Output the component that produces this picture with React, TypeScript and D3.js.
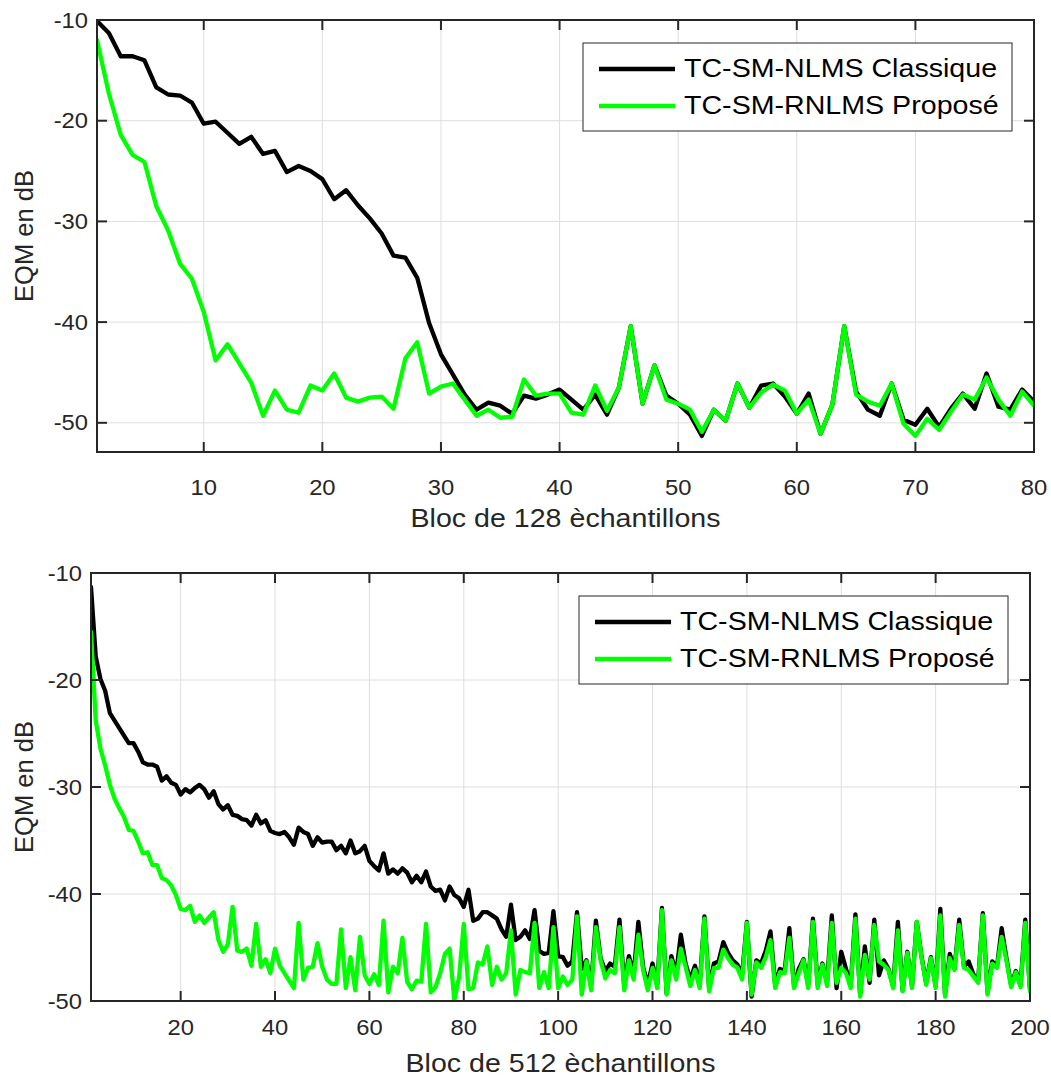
import React from "react";
import * as d3 from "d3";

// ---------- DATA ----------
const seriesNames = ["TC-SM-NLMS Classique", "TC-SM-RNLMS Proposé"];
const seriesColors = ["#000000", "#00ff00"];

const topXTicks = [10, 20, 30, 40, 50, 60, 70, 80];
const topYTicks = [-50, -40, -30, -20, -10];
const topXLabel = "Bloc de 128 èchantillons";

const bottomXTicks = [20, 40, 60, 80, 100, 120, 140, 160, 180, 200];
const bottomYTicks = [-50, -40, -30, -20, -10];
const bottomXLabel = "Bloc de 512 èchantillons";
const yLabel = "EQM en dB";

const topClassique = [
  -10.1, -11.3, -13.6, -13.6, -14.0, -16.7, -17.4, -17.5, -18.2, -20.3,
  -20.1, -21.2, -22.3, -21.6, -23.3, -23.0, -25.1, -24.5, -25.0, -25.8,
  -27.8, -26.9, -28.4, -29.7, -31.2, -33.4, -33.6, -35.6, -40.1, -43.2,
  -45.2, -47.2, -48.7, -48.0, -48.3, -49.1, -47.3, -47.6, -47.2, -46.7,
  -47.7, -48.7, -47.2, -49.2, -46.5, -40.4, -48.1, -44.3, -47.3, -48.1,
  -49.2, -51.3, -48.7, -49.8, -46.1, -48.5, -46.3, -46.1, -47.4, -49.1,
  -47.1, -51.1, -48.2, -40.4, -46.9, -48.7, -49.3, -46.1, -49.7, -50.2,
  -48.6, -50.4, -48.6, -47.1, -48.6, -45.1, -48.4, -48.7, -46.7, -47.9,
];

const topPropose = [
  -12.0, -17.3, -21.4, -23.4, -24.1, -28.5, -30.9, -34.2, -35.7, -39.0,
  -43.8, -42.2, -44.1, -46.0, -49.3, -46.8, -48.7, -49.0, -46.3, -46.8,
  -45.1, -47.5, -47.9, -47.5, -47.4, -48.6, -43.6, -42.0, -47.1, -46.4,
  -46.1, -47.7, -49.3, -48.7, -49.5, -49.4, -45.7, -47.3, -47.1, -47.1,
  -49.0, -49.2, -46.3, -48.8, -46.5, -40.4, -48.1, -44.3, -47.7, -48.1,
  -48.7, -50.9, -48.7, -49.8, -46.1, -48.5, -47.0, -46.2, -46.8, -49.1,
  -47.7, -51.1, -48.2, -40.4, -47.2, -47.9, -48.3, -46.1, -50.1, -51.3,
  -49.6, -50.7, -48.9, -47.2, -47.7, -45.5, -47.7, -49.3, -46.9, -48.3,
];

const bottomClassique = [
  -11.3, -17.8, -19.9, -21.0, -23.1, -23.8, -24.5, -25.2, -25.9, -25.9,
  -26.7, -27.7, -27.9, -27.9, -28.1, -29.4, -29.0, -29.6, -29.8, -30.7,
  -30.2, -30.5, -30.1, -29.8, -30.2, -31.0, -30.4, -31.6, -32.1, -31.7,
  -32.6, -32.7, -33.0, -33.1, -33.6, -32.6, -33.4, -33.1, -34.1, -34.3,
  -34.4, -34.2, -34.7, -35.4, -33.8, -34.2, -34.4, -35.5, -34.7, -35.2,
  -35.1, -35.1, -35.9, -35.5, -36.2, -35.0, -36.2, -36.0, -35.5, -36.9,
  -37.4, -37.8, -36.2, -38.1, -37.7, -38.1, -37.6, -38.0, -38.9, -38.3,
  -38.9, -37.9, -39.3, -39.7, -39.6, -40.6, -39.3, -40.1, -40.4, -41.2,
  -39.6, -42.5, -42.3, -41.7, -41.7, -42.0, -42.3, -43.3, -44.0, -41.0,
  -44.3, -44.0, -43.4, -44.2, -41.5, -45.3, -45.6, -45.5, -41.6, -45.8,
  -45.9, -46.7, -46.3, -41.7, -47.0, -46.2, -48.5, -42.5, -46.0, -47.2,
  -46.5, -46.8, -42.4, -48.5, -45.8, -47.5, -42.6, -46.8, -48.5, -46.5,
  -48.5, -41.3, -49.3, -45.8, -47.5, -43.8, -46.5, -48.0, -46.7, -48.5,
  -42.1, -48.8, -46.5, -46.3, -44.5, -45.5, -46.2, -46.6, -47.5, -42.6,
  -49.6, -46.2, -46.5, -45.3, -43.5, -48.5, -47.0, -47.2, -43.2, -48.6,
  -47.0, -46.1, -48.5, -42.3, -48.5, -46.5, -48.2, -42.0, -48.8, -45.4,
  -47.0, -48.5, -41.9, -49.4, -44.9, -48.3, -42.4, -47.6, -46.2, -47.0,
  -48.6, -42.6, -49.0, -45.4, -48.6, -42.6, -45.8, -48.3, -45.9, -48.6,
  -41.4, -49.4, -45.6, -47.0, -42.4, -46.8, -46.3, -47.5, -48.2, -41.8,
  -49.2, -46.3, -46.8, -43.2, -46.0, -48.5, -47.2, -48.5, -42.4, -48.9,
];

const bottomPropose = [
  -15.5, -23.8, -26.4, -28.0, -29.8, -31.1, -32.0, -32.8, -34.0, -34.1,
  -35.1, -36.2, -36.1, -37.3, -37.3, -38.5, -38.7, -39.2, -40.1, -41.4,
  -41.5, -41.1, -42.6, -42.0, -42.7, -42.2, -41.7, -44.3, -45.4, -44.7,
  -41.2, -45.3, -45.4, -45.1, -46.7, -42.8, -46.8, -46.1, -47.4, -45.1,
  -46.7, -47.4, -48.1, -48.8, -42.7, -48.0, -46.9, -46.8, -44.6, -46.8,
  -48.0, -48.4, -48.4, -43.3, -48.8, -45.9, -49.0, -44.0, -47.6, -48.4,
  -47.5, -48.5, -42.5, -49.2, -46.8, -47.4, -44.1, -48.2, -48.9, -48.1,
  -48.2, -42.8, -49.2, -48.7, -47.4, -45.6, -45.1, -49.9, -47.8, -42.8,
  -48.9, -48.8, -46.4, -46.6, -44.9, -48.5, -46.8, -48.0, -47.4, -43.4,
  -49.4, -47.1, -47.3, -47.4, -42.7, -48.8, -47.3, -48.8, -43.1, -48.8,
  -47.7, -48.5, -48.0, -42.1, -49.4, -46.3, -49.0, -43.1, -46.2, -47.9,
  -47.1, -47.4, -43.1, -49.0, -46.2, -48.0, -43.8, -47.1, -49.0, -46.9,
  -48.8, -41.5, -49.4, -46.2, -48.0, -45.1, -46.8, -48.6, -47.1, -48.8,
  -42.3, -49.1, -46.9, -46.9, -45.2, -46.0, -46.6, -46.9, -48.0, -42.7,
  -49.4, -46.4, -46.9, -45.9, -44.3, -48.8, -47.3, -47.4, -44.1, -48.8,
  -47.4, -46.2, -48.8, -42.6, -48.8, -46.6, -48.6, -42.7, -48.3, -46.9,
  -47.4, -48.8, -42.3, -49.6, -45.7, -48.0, -42.9, -46.3, -46.6, -47.1,
  -48.8, -43.4, -49.1, -45.5, -48.8, -42.6, -45.9, -48.5, -46.0, -48.8,
  -42.0, -49.6, -46.0, -47.1, -42.9, -46.9, -47.1, -47.7, -48.3, -42.0,
  -49.4, -46.5, -46.9, -44.0, -46.2, -48.7, -47.3, -48.7, -42.7, -49.1,
];

// ---------- COMPONENTS ----------
const FONT = "'Liberation Sans', Arial, Helvetica, sans-serif";
const AXIS_COLOR = "#262626";
const GRID_COLOR = "#dedede";

type STextProps = {
  x: number;
  y: number;
  size: number;
  sx: number;
  anchor?: "start" | "middle" | "end";
  fill?: string;
  children: React.ReactNode;
};

function SText({ x, y, size, sx, anchor = "start", fill = AXIS_COLOR, children }: STextProps) {
  return (
    <text
      transform={`translate(${x},${y}) scale(${sx},1)`}
      textAnchor={anchor}
      dominantBaseline="central"
      fontFamily={FONT}
      fontSize={size}
      fill={fill}
    >
      {children}
    </text>
  );
}

type PanelProps = {
  id: string;
  left: number;
  right: number;
  top: number;
  bottom: number;
  xDomain: [number, number];
  yDomain: [number, number];
  xTicks: number[];
  yTicks: number[];
  series: number[][];
  xLabel: string;
  tickLabelY: number;
  xLabelY: number;
};

function Panel(p: PanelProps) {
  const x = d3.scaleLinear().domain(p.xDomain).range([p.left, p.right]);
  const y = d3.scaleLinear().domain(p.yDomain).range([p.bottom, p.top]);
  const line = d3
    .line<number>()
    .x((_, i) => x(i + 1))
    .y((d) => y(d));
  const tickLen = 10;
  const legW = 429;
  const legH = 88;
  const legX = p.right - 22 - legW;
  const legY = p.top + 23;
  const rowY = [legY + 26, legY + 63];
  const midY = (p.top + p.bottom) / 2;
  const midX = (p.left + p.right) / 2;
  const tickSize = 22;
  const tickSx = 1.08;

  return (
    <g>
      <defs>
        <clipPath id={p.id}>
          <rect x={p.left} y={p.top} width={p.right - p.left} height={p.bottom - p.top} />
        </clipPath>
      </defs>
      <rect x={p.left} y={p.top} width={p.right - p.left} height={p.bottom - p.top} fill="#ffffff" />
      {/* grid */}
      {p.xTicks.map((t) => (
        <line key={"gx" + t} x1={x(t)} x2={x(t)} y1={p.top} y2={p.bottom} stroke={GRID_COLOR} strokeWidth={1} />
      ))}
      {p.yTicks.map((t) => (
        <line key={"gy" + t} x1={p.left} x2={p.right} y1={y(t)} y2={y(t)} stroke={GRID_COLOR} strokeWidth={1} />
      ))}
      {/* data */}
      <g clipPath={`url(#${p.id})`}>
        {p.series.map((s, k) => (
          <path
            key={"s" + k}
            d={line(s) || ""}
            fill="none"
            stroke={seriesColors[k]}
            strokeWidth={4.3}
            strokeLinejoin="round"
            strokeLinecap="round"
          />
        ))}
      </g>
      {/* ticks */}
      {p.xTicks.map((t) => (
        <g key={"tx" + t}>
          <line x1={x(t)} x2={x(t)} y1={p.bottom} y2={p.bottom - tickLen} stroke={AXIS_COLOR} strokeWidth={2} />
          <line x1={x(t)} x2={x(t)} y1={p.top} y2={p.top + tickLen} stroke={AXIS_COLOR} strokeWidth={2} />
          <SText x={x(t)} y={p.tickLabelY} size={tickSize} sx={tickSx} anchor="middle">
            {t}
          </SText>
        </g>
      ))}
      {p.yTicks.map((t) => (
        <g key={"ty" + t}>
          <line x1={p.left} x2={p.left + tickLen} y1={y(t)} y2={y(t)} stroke={AXIS_COLOR} strokeWidth={2} />
          <line x1={p.right} x2={p.right - tickLen} y1={y(t)} y2={y(t)} stroke={AXIS_COLOR} strokeWidth={2} />
          <SText x={p.left - 9} y={y(t)} size={tickSize} sx={tickSx} anchor="end">
            {t}
          </SText>
        </g>
      ))}
      {/* box */}
      <rect
        x={p.left}
        y={p.top}
        width={p.right - p.left}
        height={p.bottom - p.top}
        fill="none"
        stroke={AXIS_COLOR}
        strokeWidth={2}
      />
      {/* labels */}
      <SText x={midX} y={p.xLabelY} size={25} sx={1.144} anchor="middle">
        {p.xLabel}
      </SText>
      <text
        transform={`translate(33,${midY}) rotate(-90)`}
        textAnchor="middle"
        fontFamily={FONT}
        fontSize={25.5}
        fill={AXIS_COLOR}
      >
        {yLabel}
      </text>
      {/* legend */}
      <rect x={legX} y={legY} width={legW} height={legH} fill="#ffffff" stroke={AXIS_COLOR} strokeWidth={1} />
      {seriesNames.map((n, k) => (
        <g key={"lg" + k}>
          <line x1={legX + 16} x2={legX + 92} y1={rowY[k]} y2={rowY[k]} stroke={seriesColors[k]} strokeWidth={4.3} />
          <SText x={legX + 101} y={rowY[k]} size={25} sx={1.144} fill="#000000">
            {n}
          </SText>
        </g>
      ))}
    </g>
  );
}

export default function App() {
  return (
    <svg
      width={1051}
      height={1077}
      style={{ position: "absolute", left: 0, top: 0, background: "#ffffff" }}
    >
      <rect x={0} y={0} width={1051} height={1077} fill="#ffffff" />
      <Panel
        id="clipTop"
        left={97}
        right={1034}
        top={20}
        bottom={452}
        xDomain={[1, 80]}
        yDomain={[-52.9, -10]}
        xTicks={topXTicks}
        yTicks={topYTicks}
        series={[topClassique, topPropose]}
        xLabel={topXLabel}
        tickLabelY={487}
        xLabelY={519}
      />
      <Panel
        id="clipBottom"
        left={91}
        right={1030}
        top={573}
        bottom={1001}
        xDomain={[1, 200]}
        yDomain={[-50, -10]}
        xTicks={bottomXTicks}
        yTicks={bottomYTicks}
        series={[bottomClassique, bottomPropose]}
        xLabel={bottomXLabel}
        tickLabelY={1027}
        xLabelY={1064}
      />
    </svg>
  );
}
